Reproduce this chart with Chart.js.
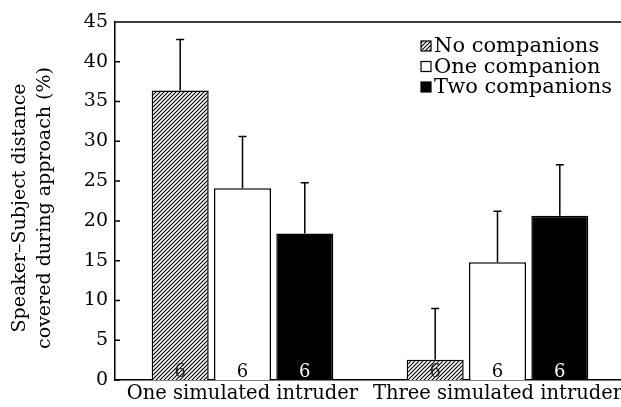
<!DOCTYPE html>
<html><head><meta charset="utf-8">
<script src="https://cdn.jsdelivr.net/npm/chart.js@4/dist/chart.umd.min.js"></script>
<style>html,body{margin:0;padding:0;background:#fff;overflow:hidden;width:621px;height:407px}canvas{display:block}</style>
</head><body>
<canvas id="c" width="632" height="407"></canvas>
<script>
const categories = ['One simulated intruder', 'Three simulated intruder'];
const seriesNames = ['No companions', 'One companion', 'Two companions'];
const noCompanions = [36.4, 2.55];
const oneCompanion = [24.1, 14.8];
const twoCompanions = [18.4, 20.65];
const errNo = [6.4, 6.45];
const errOne = [6.5, 6.4];
const errTwo = [6.4, 6.4];
const nNo = [6, 6];
const nOne = [6, 6];
const nTwo = [6, 6];
const yTitle = ['Speaker\u2013Subject distance', 'covered during approach (%)'];

const FONT = 'DejaVu Serif';
const canvas = document.getElementById('c');
const mainCtx = canvas.getContext('2d');

function makeHatch() {
  const s = 4;
  const c = document.createElement('canvas');
  c.width = s; c.height = s;
  const g = c.getContext('2d');
  g.fillStyle = '#fff'; g.fillRect(0, 0, s, s);
  g.strokeStyle = '#000'; g.lineWidth = 1.1;
  g.beginPath();
  g.moveTo(-1, s + 1); g.lineTo(s + 1, -1);
  g.moveTo(-1, 1); g.lineTo(1, -1);
  g.moveTo(s - 1, s + 1); g.lineTo(s + 1, s - 1);
  g.stroke();
  return mainCtx.createPattern(c, 'repeat');
}
const hatch = makeHatch();

const errs = [errNo, errOne, errTwo];
const ns = [nNo, nOne, nTwo];
const nColors = ['#222', '#000', '#fff'];

const decor = {
  id: 'decor',
  afterDatasetsDraw(chart) {
    const ctx = chart.ctx, y = chart.scales.y;
    ctx.save();
    ctx.strokeStyle = '#000';
    ctx.lineWidth = 1.5;
    chart.data.datasets.forEach((ds, di) => {
      const meta = chart.getDatasetMeta(di);
      meta.data.forEach((bar, i) => {
        const v = ds.data[i];
        const top = y.getPixelForValue(v + errs[di][i]);
        ctx.beginPath();
        ctx.moveTo(bar.x, bar.y);
        ctx.lineTo(bar.x, top);
        ctx.moveTo(bar.x - 4, top);
        ctx.lineTo(bar.x + 4, top);
        ctx.stroke();
        ctx.fillStyle = nColors[di];
        ctx.font = '18px "' + FONT + '"';
        ctx.textAlign = 'center';
        ctx.textBaseline = 'alphabetic';
        ctx.fillText(String(ns[di][i]), bar.x, y.getPixelForValue(0) - 3);
      });
    });
    ctx.restore();
  },
  afterDraw(chart) {
    const ctx = chart.ctx, a = chart.chartArea, y = chart.scales.y;
    ctx.save();
    ctx.strokeStyle = '#000';
    ctx.lineWidth = 1.5;
    ctx.beginPath();
    ctx.moveTo(a.left, a.top);
    ctx.lineTo(a.right, a.top);
    y.ticks.forEach(t => {
      const py = y.getPixelForValue(t.value);
      ctx.moveTo(a.left, py);
      ctx.lineTo(a.left + 5, py);
    });
    ctx.stroke();
    // y-axis title
    ctx.fillStyle = '#000';
    ctx.font = '19px "' + FONT + '"';
    ctx.textAlign = 'center';
    ctx.textBaseline = 'middle';
    const cyT = (a.top + a.bottom) / 2 + 7;
    yTitle.forEach((line, i) => {
      ctx.save();
      ctx.translate(20 + i * 25, cyT);
      ctx.rotate(-Math.PI / 2);
      ctx.fillText(line, 0, 0);
      ctx.restore();
    });
    // legend
    const lx = 421, ly0 = a.top + 24, step = 20.5;
    ctx.font = '21px "' + FONT + '"';
    ctx.textBaseline = 'middle';
    ctx.textAlign = 'left';
    chart.data.datasets.forEach((ds, di) => {
      const cy = ly0 + di * step;
      ctx.fillStyle = ds.backgroundColor;
      ctx.fillRect(lx, cy - 5, 10, 10);
      ctx.lineWidth = 1.2;
      ctx.strokeRect(lx, cy - 5, 10, 10);
      ctx.fillStyle = '#000';
      ctx.fillText(ds.label, lx + 13, cy + 1);
    });
    ctx.restore();
  }
};

new Chart(canvas, {
  type: 'bar',
  data: {
    labels: categories,
    datasets: [
      { label: seriesNames[0], data: noCompanions, backgroundColor: hatch, borderColor: '#000', borderWidth: 1.5 },
      { label: seriesNames[1], data: oneCompanion, backgroundColor: '#fff', borderColor: '#000', borderWidth: 1.5 },
      { label: seriesNames[2], data: twoCompanions, backgroundColor: '#000', borderColor: '#000', borderWidth: 1.5 }
    ]
  },
  options: {
    responsive: false,
    animation: false,
    devicePixelRatio: 1,
    categoryPercentage: 0.733,
    barPercentage: 0.915,
    layout: { padding: { top: 22, left: 0, right: 7, bottom: 0 } },
    plugins: { legend: { display: false }, tooltip: { enabled: false } },
    scales: {
      x: {
        type: 'category',
        offset: true,
        grid: { display: false, drawTicks: false },
        border: { display: true, color: '#000', width: 1.5 },
        ticks: { color: '#000', font: { family: FONT, size: 19.5 }, padding: 2, maxRotation: 0, autoSkip: false },
        afterFit: s => { s.height = 27; }
      },
      y: {
        min: 0, max: 45,
        grid: { display: false, drawTicks: false },
        border: { display: true, color: '#000', width: 1.5 },
        ticks: { stepSize: 5, color: '#000', font: { family: FONT, size: 19 }, padding: 7 },
        title: { display: false },
        afterFit: s => { s.width = 115; }
      }
    }
  },
  plugins: [decor]
});
</script>
</body></html>
